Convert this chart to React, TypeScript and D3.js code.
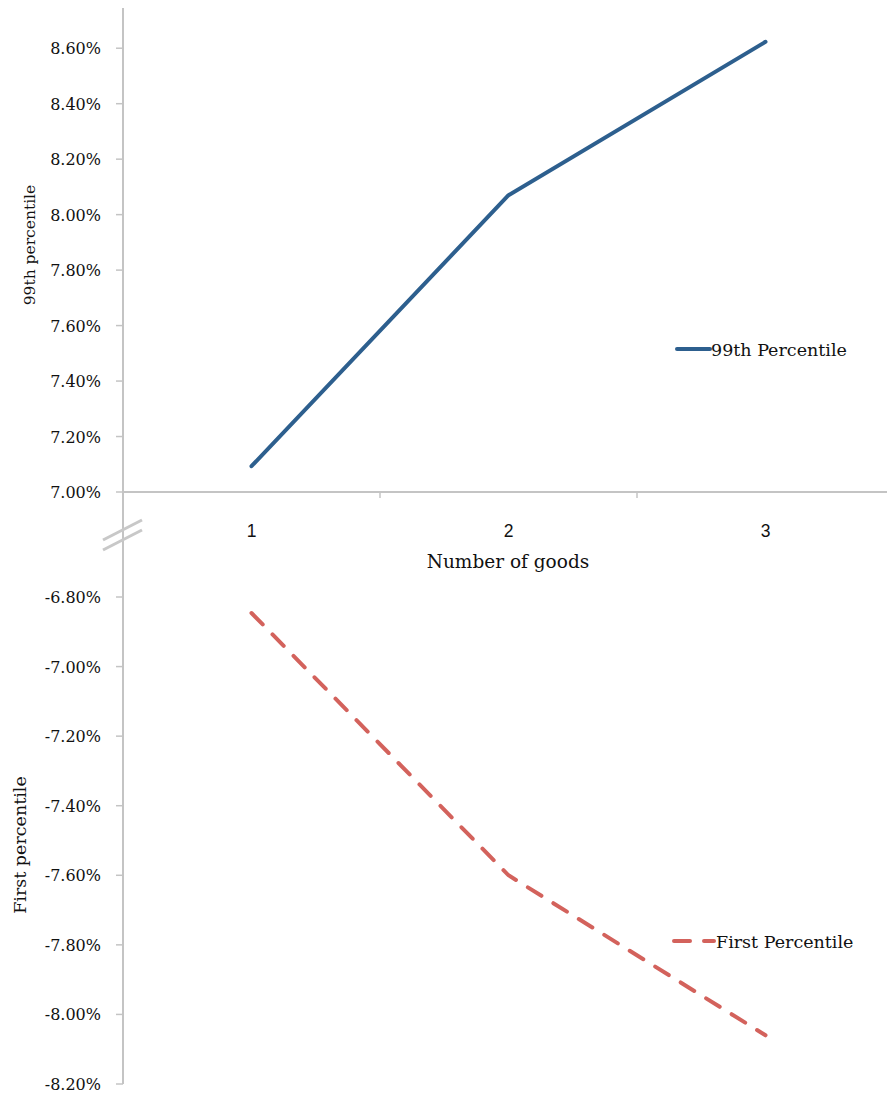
import React from "react";
import * as d3 from "d3";

const categories = ["1", "2", "3"];
const p99Values = [7.093, 8.07, 8.623];
const p1Values = [-6.846, -7.6, -8.06];
const topTicks = [7.0, 7.2, 7.4, 7.6, 7.8, 8.0, 8.2, 8.4, 8.6];
const bottomTicks = [-6.8, -7.0, -7.2, -7.4, -7.6, -7.8, -8.0, -8.2];

const W = 887;
const H = 1099;
const AX = 123;
const SERIF = "'DejaVu Serif', serif";
const SANS = "'Liberation Sans', Arial, sans-serif";
const AXIS_COLOR = "#c4c4c4";
const TEXT = "#111";

export default function App() {
  const x = d3.scaleBand<string>().domain(categories).range([AX, AX + 3 * 257]).padding(0);
  const cx = (c: string) => (x(c) as number) + x.bandwidth() / 2;
  const yTop = d3.scaleLinear().domain([7.0, 8.745]).range([492, 8]);
  const yBot = d3.scaleLinear().domain([-6.8, -8.2]).range([597, 1084]);

  const lineTop = d3
    .line<number>()
    .x((_, i) => cx(categories[i]))
    .y((d) => yTop(d));
  const lineBot = d3
    .line<number>()
    .x((_, i) => cx(categories[i]))
    .y((d) => yBot(d));

  const fmt = (v: number) => v.toFixed(2) + "%";
  const bandEdges = [categories.map((c) => x(c) as number), (x(categories[2]) as number) + x.bandwidth()].flat();

  return (
    <svg width={W} height={H} style={{ display: "block", position: "absolute", left: 0, top: 0 }}>
      <rect width={W} height={H} fill="#fff" />
      {/* y axis line */}
      <line x1={AX} x2={AX} y1={8} y2={yBot(-8.2)} stroke={AXIS_COLOR} strokeWidth={2} />
      {/* x axis */}
      <line x1={AX} x2={W} y1={yTop(7.0)} y2={yTop(7.0)} stroke={AXIS_COLOR} strokeWidth={2} />
      {bandEdges.map((e, i) => (
        <line key={"xt" + i} x1={e} x2={e} y1={yTop(7.0)} y2={yTop(7.0) + 6} stroke={AXIS_COLOR} strokeWidth={1.5} />
      ))}
      {categories.map((c) => (
        <text key={"xl" + c} x={cx(c)} y={537} textAnchor="middle" fontFamily={SANS} fontSize={17.5} fill={TEXT}>
          {c}
        </text>
      ))}
      <text x={508} y={568} textAnchor="middle" fontFamily={SERIF} fontSize={18.5} fill={TEXT}>
        Number of goods
      </text>
      {/* top ticks */}
      {topTicks.map((t) => (
        <g key={"tt" + t}>
          <line x1={AX - 7} x2={AX} y1={yTop(t)} y2={yTop(t)} stroke={AXIS_COLOR} strokeWidth={1.5} />
          <text x={101} y={yTop(t) + 6} textAnchor="end" fontFamily={SERIF} fontSize={16} fill={TEXT}>
            {fmt(t)}
          </text>
        </g>
      ))}
      {bottomTicks.map((t) => (
        <g key={"bt" + t}>
          <line x1={AX - 7} x2={AX} y1={yBot(t)} y2={yBot(t)} stroke={AXIS_COLOR} strokeWidth={1.5} />
          <text x={101} y={yBot(t) + 6} textAnchor="end" fontFamily={SERIF} fontSize={16} fill={TEXT}>
            {fmt(t)}
          </text>
        </g>
      ))}
      {/* break mark */}
      <line x1={103} y1={540} x2={142} y2={520} stroke="#c8c8c8" strokeWidth={3} />
      <line x1={103} y1={550} x2={142} y2={530} stroke="#c8c8c8" strokeWidth={3} />
      {/* axis titles */}
      <text transform="translate(35,245) rotate(-90)" textAnchor="middle" fontFamily={SERIF} fontSize={15.5} fill={TEXT}>
        99th percentile
      </text>
      <text transform="translate(26,845) rotate(-90)" textAnchor="middle" fontFamily={SERIF} fontSize={17.5} fill={TEXT}>
        First percentile
      </text>
      {/* series */}
      <path d={lineTop(p99Values) || ""} fill="none" stroke="#2d5f8e" strokeWidth={4} strokeLinecap="round" strokeLinejoin="round" />
      <path d={lineBot(p1Values) || ""} fill="none" stroke="#d3625c" strokeWidth={4} strokeLinecap="round" strokeDasharray="16,14" />
      {/* legends */}
      <line x1={677} x2={710} y1={349} y2={349} stroke="#2d5f8e" strokeWidth={4} strokeLinecap="round" />
      <text x={711} y={356} fontFamily={SERIF} fontSize={17.5} fill={TEXT}>
        99th Percentile
      </text>
      <line x1={674} x2={714} y1={941} y2={941} stroke="#d3625c" strokeWidth={4} strokeLinecap="round" strokeDasharray="16,14" />
      <text x={716} y={948} fontFamily={SERIF} fontSize={17.5} fill={TEXT}>
        First Percentile
      </text>
    </svg>
  );
}
